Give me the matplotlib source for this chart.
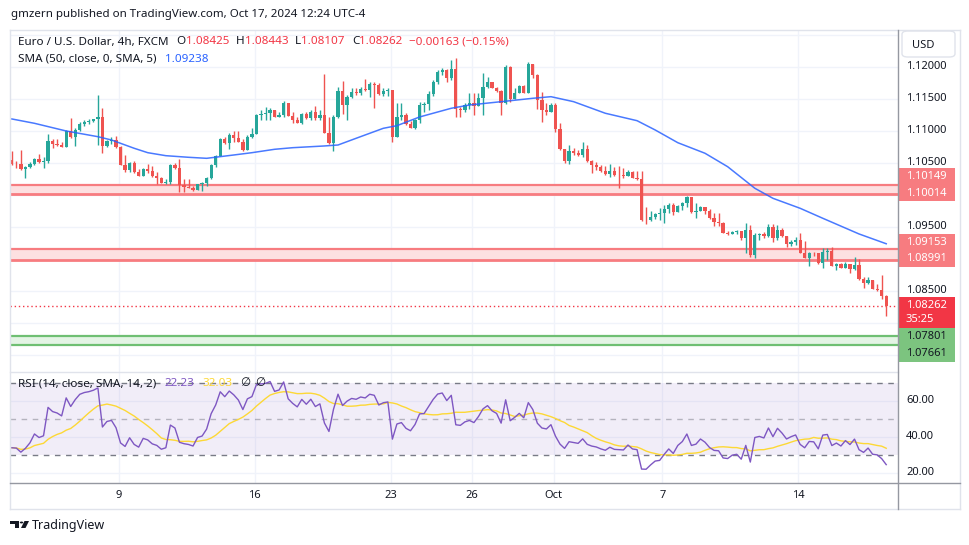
import numpy as np
import pandas as pd
import matplotlib
matplotlib.use('Agg')
import matplotlib.pyplot as plt
from matplotlib.patches import Rectangle, FancyBboxPatch, Circle, Polygon
from matplotlib.lines import Line2D

plt.rcParams['font.family'] = ['Noto Sans', 'DejaVu Sans']

# ---------------- data (EUR/USD 4h, FXCM) ----------------
first_open = 1.10547
closes = [
    1.10484, 1.10477, 1.10406, 1.10438, 1.10484, 1.10563, 1.10516, 1.10531, 1.10844, 1.10797,
    1.10781, 1.10750, 1.11000, 1.10906, 1.11016, 1.11109, 1.11141, 1.11156, 1.11180, 1.11219,
    1.10766, 1.10844, 1.10859, 1.10750, 1.10469, 1.10391, 1.10500, 1.10359, 1.10297, 1.10406,
    1.10375, 1.10297, 1.10266, 1.10188, 1.10203, 1.10469, 1.10422, 1.10156, 1.10125, 1.10109,
    1.10078, 1.10172, 1.10188, 1.10266, 1.10469, 1.10609, 1.10875, 1.10813, 1.10938, 1.10891,
    1.10828, 1.10703, 1.10906, 1.10953, 1.11250, 1.11266, 1.11281, 1.11328, 1.11219, 1.11250,
    1.11438, 1.11234, 1.11172, 1.11125, 1.11266, 1.11203, 1.11297, 1.11203, 1.11250, 1.10969,
    1.10813, 1.11219, 1.11625, 1.11406, 1.11531, 1.11609, 1.11594, 1.11656, 1.11641, 1.11734,
    1.11719, 1.11578, 1.11625, 1.11641, 1.10906, 1.11219, 1.11250, 1.11109, 1.11047, 1.11172,
    1.11406, 1.11414, 1.11578, 1.11766, 1.11922, 1.11953, 1.11828, 1.11969, 1.11344, 1.11328,
    1.11406, 1.11438, 1.11391, 1.11516, 1.11688, 1.11766, 1.11672, 1.11625, 1.11438, 1.12000,
    1.11500, 1.11594, 1.11703, 1.11594, 1.12047, 1.11875, 1.11484, 1.11328, 1.11297, 1.11406,
    1.11031, 1.10719, 1.10531, 1.10688, 1.10656, 1.10625, 1.10719, 1.10531, 1.10469, 1.10438,
    1.10375, 1.10328, 1.10375, 1.10313, 1.10305, 1.10297, 1.10359, 1.10266, 1.10250, 1.09609,
    1.09602, 1.09656, 1.09703, 1.09711, 1.09781, 1.09844, 1.09734, 1.09828, 1.09875, 1.09969,
    1.09734, 1.09750, 1.09813, 1.09750, 1.09641, 1.09578, 1.09570, 1.09406, 1.09391, 1.09422,
    1.09430, 1.09328, 1.09453, 1.09063, 1.09375, 1.09391, 1.09359, 1.09500, 1.09328, 1.09453,
    1.09359, 1.09234, 1.09266, 1.09289, 1.09094, 1.09016, 1.09094, 1.09086, 1.08938, 1.09109,
    1.09117, 1.08891, 1.08922, 1.08859, 1.08922, 1.08844, 1.08906, 1.08688, 1.08625, 1.08672,
    1.08531, 1.08516, 1.08425, 1.08262,
]
highs = [
    1.10687, 1.10531, 1.10703, 1.10453, 1.10523, 1.10578, 1.10641, 1.10594, 1.10953, 1.10875,
    1.10875, 1.10828, 1.11008, 1.11203, 1.11047, 1.11141, 1.11164, 1.11180, 1.11195, 1.11563,
    1.11359, 1.10859, 1.10906, 1.10922, 1.10766, 1.10625, 1.10516, 1.10531, 1.10406, 1.10422,
    1.10484, 1.10453, 1.10359, 1.10281, 1.10250, 1.10484, 1.10500, 1.10563, 1.10250, 1.10250,
    1.10141, 1.10172, 1.10203, 1.10281, 1.10484, 1.10625, 1.10891, 1.10906, 1.10969, 1.11000,
    1.11000, 1.10875, 1.10938, 1.11047, 1.11266, 1.11328, 1.11375, 1.11359, 1.11328, 1.11297,
    1.11469, 1.11438, 1.11297, 1.11219, 1.11281, 1.11297, 1.11328, 1.11391, 1.11328, 1.11891,
    1.11219, 1.11250, 1.11688, 1.11781, 1.11563, 1.11672, 1.11672, 1.11688, 1.11813, 1.11766,
    1.11766, 1.11750, 1.11672, 1.11672, 1.11641, 1.11438, 1.11438, 1.11281, 1.11156, 1.11188,
    1.11453, 1.11453, 1.11625, 1.11797, 1.11953, 1.11984, 1.11969, 1.12109, 1.12141, 1.11375,
    1.11438, 1.11594, 1.11594, 1.11594, 1.11906, 1.11844, 1.11766, 1.11688, 1.11641, 1.12031,
    1.12016, 1.11672, 1.11719, 1.11719, 1.12078, 1.12047, 1.11891, 1.11609, 1.11438, 1.11438,
    1.11438, 1.11125, 1.10719, 1.10781, 1.10734, 1.10703, 1.10828, 1.10781, 1.10547, 1.10516,
    1.10469, 1.10453, 1.10484, 1.10438, 1.10453, 1.10422, 1.10391, 1.10375, 1.10375, 1.10375,
    1.09813, 1.09750, 1.09719, 1.09797, 1.09844, 1.09875, 1.09875, 1.09844, 1.09891, 1.09984,
    1.09969, 1.09875, 1.09828, 1.09813, 1.09781, 1.09719, 1.09719, 1.09578, 1.09438, 1.09438,
    1.09453, 1.09422, 1.09563, 1.09531, 1.09406, 1.09406, 1.09422, 1.09547, 1.09547, 1.09531,
    1.09484, 1.09344, 1.09297, 1.09344, 1.09406, 1.09281, 1.09109, 1.09109, 1.09094, 1.09172,
    1.09172, 1.09188, 1.08938, 1.08938, 1.08953, 1.08922, 1.09031, 1.09000, 1.08719, 1.08719,
    1.08656, 1.08609, 1.08750, 1.08443,
]
lows = [
    1.10469, 1.10422, 1.10391, 1.10266, 1.10422, 1.10469, 1.10500, 1.10422, 1.10500, 1.10734,
    1.10766, 1.10750, 1.10766, 1.10891, 1.10766, 1.11000, 1.11078, 1.11109, 1.11141, 1.10781,
    1.10656, 1.10750, 1.10797, 1.10734, 1.10469, 1.10359, 1.10359, 1.10344, 1.10297, 1.10297,
    1.10344, 1.10281, 1.10172, 1.10188, 1.10172, 1.10172, 1.10406, 1.10047, 1.10047, 1.10109,
    1.10063, 1.10078, 1.10063, 1.10141, 1.10250, 1.10438, 1.10609, 1.10797, 1.10719, 1.10828,
    1.10828, 1.10688, 1.10703, 1.10891, 1.10953, 1.11172, 1.11172, 1.11172, 1.11219, 1.11219,
    1.11219, 1.11234, 1.11125, 1.11125, 1.11109, 1.11188, 1.11172, 1.11172, 1.11172, 1.10969,
    1.10797, 1.10688, 1.11203, 1.11266, 1.11172, 1.11516, 1.11563, 1.11563, 1.11625, 1.11531,
    1.11359, 1.11563, 1.11547, 1.11547, 1.10828, 1.10906, 1.11172, 1.11094, 1.11047, 1.11031,
    1.11125, 1.11297, 1.11328, 1.11547, 1.11734, 1.11875, 1.11766, 1.11797, 1.11219, 1.11219,
    1.11297, 1.11344, 1.11250, 1.11391, 1.11250, 1.11672, 1.11672, 1.11609, 1.11250, 1.11422,
    1.11453, 1.11500, 1.11594, 1.11594, 1.11594, 1.11828, 1.11344, 1.11141, 1.11250, 1.11297,
    1.10984, 1.10703, 1.10500, 1.10484, 1.10625, 1.10609, 1.10594, 1.10516, 1.10344, 1.10391,
    1.10359, 1.10313, 1.10281, 1.10297, 1.10109, 1.10266, 1.10297, 1.10266, 1.10234, 1.09594,
    1.09547, 1.09594, 1.09625, 1.09609, 1.09563, 1.09719, 1.09688, 1.09734, 1.09766, 1.09813,
    1.09719, 1.09641, 1.09750, 1.09703, 1.09625, 1.09516, 1.09516, 1.09406, 1.09375, 1.09391,
    1.09391, 1.09297, 1.09094, 1.09031, 1.09016, 1.09297, 1.09328, 1.09344, 1.09266, 1.09297,
    1.09344, 1.09188, 1.09203, 1.09219, 1.09094, 1.09016, 1.08891, 1.09047, 1.08922, 1.08859,
    1.08984, 1.08891, 1.08828, 1.08859, 1.08859, 1.08781, 1.08828, 1.08672, 1.08547, 1.08609,
    1.08531, 1.08500, 1.08375, 1.08107,
]
# SMA(50) at selected candles
sma_idx = [0, 5, 12, 19, 22, 27, 30, 34, 39, 43, 49, 53, 58, 62, 69, 72, 76, 82, 85, 90,
           97, 101, 108, 115, 119, 124, 131, 138, 142, 147, 153, 158, 164, 168, 174, 179, 187, 193]
sma_val = [1.11188, 1.11120, 1.11000, 1.10911, 1.10859, 1.10730, 1.10661, 1.10614, 1.10589, 1.10573,
           1.10625, 1.10661, 1.10714, 1.10739, 1.10766, 1.10781, 1.10886, 1.11042, 1.11083, 1.11219,
           1.11355, 1.11406, 1.11458, 1.11511, 1.11536, 1.11458, 1.11277, 1.11161, 1.11016, 1.10817,
           1.10652, 1.10442, 1.10105, 1.09948, 1.09792, 1.09636, 1.09391, 1.09238]
rsi_start = 34.0          # RSI value at the first visible candle
red_zones = [(1.10149, 1.10014), (1.09153, 1.08991)]
green_zone = (1.07801, 1.07661)
countdown = '35:25'
tick_idx = [24, 54, 84, 102, 120, 144, 174]
tick_labels = ['9', '16', '23', '26', 'Oct', '7', '14']
price_ticks = [1.12, 1.115, 1.11, 1.105, 1.095, 1.085]
rsi_ticks = [60, 40, 20]
rsi_legend = ('22.23', '32.03')

# ---------------- derived ----------------
closes = np.array(closes)
opens = np.concatenate([[first_open], closes[:-1]])
highs = np.maximum.reduce([np.array(highs), opens, closes])
lows = np.minimum.reduce([np.array(lows), opens, closes])
N = len(closes)
x = np.arange(N)

# RSI(14) with Wilder smoothing, state seeded from the first visible RSI value
d = np.diff(closes)
scale = np.mean(np.abs(d[:14]))
ag = scale * rsi_start / 100
al = scale * (1 - rsi_start / 100)
rsi = [rsi_start]
for dv in d:
    ag = (ag * 13 + max(dv, 0)) / 14
    al = (al * 13 + max(-dv, 0)) / 14
    rsi.append(100 - 100 / (1 + ag / al))
rsi = pd.Series(rsi)
rsi_ma = rsi.rolling(14, min_periods=1).mean()

UP, DN = '#26a69a', '#ef5350'
TXT = '#131722'
GRID = '#f0f3fa'

W, H = 970, 545
def fx(px): return px / W
def fy(py): return 1 - py / H

fig = plt.figure(figsize=(9.7, 5.45), dpi=100)
fig.patch.set_facecolor('white')
L, R, T1, B1, B2 = 10, 898, 30, 372, 483
ax = fig.add_axes([fx(L), fy(B1), (R - L) / W, (B1 - T1) / H])
ax2 = fig.add_axes([fx(L), fy(B2), (R - L) / W, (B2 - B1) / H])
for a in (ax, ax2):
    for s in a.spines.values():
        s.set_visible(False)
    a.set_xticks([]); a.set_yticks([])
    a.set_xlim(-0.4, 195.6)
    a.set_facecolor('none')
ax.set_ylim(1.07234, 1.12578)
ax2.set_ylim(14.4, 76.1)

# grids
for p in np.arange(1.075, 1.1251, 0.005):
    ax.axhline(p, color=GRID, lw=1, zorder=0)
for t in tick_idx:
    ax.axvline(t - 0.4, color=GRID, lw=1, zorder=0)
    ax2.axvline(t - 0.4, color=GRID, lw=1, zorder=0)
for r in rsi_ticks:
    ax2.axhline(r, color=GRID, lw=1, zorder=0)

# zones
for hi, lo in red_zones:
    ax.axhspan(lo, hi, color='#fde0e1', zorder=1, lw=0)
    ax.axhline(hi, color='#f77c80', lw=1.6, zorder=1.5)
    ax.axhline(lo, color='#f77c80', lw=2.0, zorder=1.5)
hi, lo = green_zone
ax.axhspan(lo, hi, color='#e4f4e5', zorder=1, lw=0)
ax.axhline(hi, color='#6fbf73', lw=1.6, zorder=1.5)
ax.axhline(lo, color='#6fbf73', lw=1.6, zorder=1.5)

# candles
cols = np.where(closes >= opens, UP, DN)
ax.vlines(x, lows, highs, colors=cols, lw=1.0, zorder=3)
body_lo = np.minimum(opens, closes)
body_h = np.maximum(np.abs(closes - opens), 0.00006)
ax.bar(x, body_h, bottom=body_lo, width=0.72, color=cols, linewidth=0, zorder=4)

# SMA
ax.plot(sma_idx, sma_val, color='#2962ff', lw=1.1, alpha=0.85, zorder=5)

# last price dotted line
ax.axhline(closes[-1], color='#f23645', lw=1, ls=(0, (1, 2)), zorder=2)

# RSI pane
ax2.axhspan(30, 70, color='#7e57c2', alpha=0.1, lw=0, zorder=0.5)
ax2.axhline(70, color='#787b86', lw=1, ls=(0, (4, 4)), zorder=1)
ax2.axhline(50, color='#787b86', lw=1, ls=(0, (4, 4)), alpha=0.5, zorder=1)
ax2.axhline(30, color='#787b86', lw=1, ls=(0, (4, 4)), zorder=1)
ax2.plot(x, rsi_ma, color='#fdd835', lw=1, zorder=2)
ax2.plot(x, rsi, color='#7e57c2', lw=1, zorder=3)

# frame lines
def fline(x0, y0, x1, y1, color, lw=1):
    fig.add_artist(Line2D([fx(x0), fx(x1)], [fy(y0), fy(y1)], color=color, lw=lw,
                          transform=fig.transFigure))
fline(10, 30, 960, 30, '#e0e3eb')
fline(10, 509, 960, 509, '#e0e3eb')
fline(10, 30, 10, 509, '#e0e3eb')
fline(960, 30, 960, 509, '#e0e3eb')
fline(10, B1, 898, B1, '#e0e3eb')
fline(R, 30, R, 509, '#9598a1')
fline(10, B2, 960, B2, '#9598a1')

renderer = fig.canvas.get_renderer()

def seq_text(x0, y0, segs, size=8.4):
    xx = x0
    for s, col, gap in segs:
        t = fig.text(fx(xx), fy(y0), s, color=col, fontsize=size, va='center', ha='left')
        xx += t.get_window_extent(renderer=renderer).width + gap

def ypx(a, v):
    return H - a.transData.transform((0, v))[1]

def xpx(a, v):
    return a.transData.transform((v, 0))[0]

# header
fig.text(fx(11), fy(15), 'gmzern published on TradingView.com, Oct 17, 2024 12:24 UTC-4',
         fontsize=8.3, color=TXT, va='center', ha='left')
chg = closes[-1] - closes[-2]
pct = chg / closes[-2] * 100
RED = '#f23645'
seq_text(18, 42, [('Euro / U.S. Dollar, 4h, FXCM', TXT, 8),
                  ('O', TXT, 0), (f'{opens[-1]:.5f}', RED, 7),
                  ('H', TXT, 0), (f'{highs[-1]:.5f}', RED, 7),
                  ('L', TXT, 0), (f'{lows[-1]:.5f}', RED, 7),
                  ('C', TXT, 0), (f'{closes[-1]:.5f}', RED, 7),
                  (f'\u2212{abs(chg):.5f} (\u2212{abs(pct):.2f}%)', RED, 0)])
seq_text(18, 59, [('SMA (50, close, 0, SMA, 5)', TXT, 8), (f'{sma_val[-1]:.5f}', '#2962ff', 0)])
seq_text(18, 384, [('RSI (14, close, SMA, 14, 2)', TXT, 8), (rsi_legend[0], '#7e57c2', 8),
                   (rsi_legend[1], '#fdd835', 8), ('\u2205', TXT, 5), ('\u2205', TXT, 0)])

# right price scale
for p in price_ticks:
    fig.text(fx(906), fy(ypx(ax, p)), f'{p:.5f}', fontsize=8, color=TXT, va='center', ha='left')
for r in rsi_ticks:
    fig.text(fx(906), fy(ypx(ax2, r)), f'{r:.2f}', fontsize=8, color=TXT, va='center', ha='left')

def label_box(y_top, y_bot, color):
    fig.add_artist(Rectangle((fx(898), fy(y_bot)), (955 - 898) / W, (y_bot - y_top) / H,
                             transform=fig.transFigure, color=color, lw=0))

for hi, lo in red_zones:
    y2 = ypx(ax, lo) - 1
    y1 = y2 - 16.5
    label_box(y1 - 8.5, y2 + 8, '#f77c80')
    fig.text(fx(906), fy(y1), f'{hi:.5f}', fontsize=8, color='white', fontweight='bold', va='center')
    fig.text(fx(906), fy(y2), f'{lo:.5f}', fontsize=8, color='white', fontweight='bold', va='center')
hi, lo = green_zone
y1 = ypx(ax, hi) + 1
y2 = y1 + 16.5
label_box(y1 - 8.5, y2 + 8.5, '#7cc47f')
fig.text(fx(906), fy(y1), f'{hi:.5f}', fontsize=8, color=TXT, va='center')
fig.text(fx(906), fy(y2), f'{lo:.5f}', fontsize=8, color=TXT, va='center')
y1 = ypx(ax, closes[-1]) - 1
label_box(y1 - 8, y1 + 23, '#f23645')
fig.text(fx(906), fy(y1), f'{closes[-1]:.5f}', fontsize=8, color='white', fontweight='bold', va='center')
fig.text(fx(906), fy(y1 + 14.5), countdown, fontsize=8, color='white', va='center')

# USD button
fig.add_artist(FancyBboxPatch((fx(902), fy(57)), (955 - 902) / W, 26 / H,
                              boxstyle='round,pad=0,rounding_size=0.006',
                              transform=fig.transFigure, fc='white', ec='#e0e3eb', lw=1))
fig.text(fx(912), fy(45), 'USD', fontsize=8, color=TXT, va='center', ha='left')

# time axis
for t, lab in zip(tick_idx, tick_labels):
    fig.text(xpx(ax, t - 0.4) / W, fy(495), lab, fontsize=8, color=TXT, va='center', ha='center')

# footer logo
fig.add_artist(Polygon([(fx(10), fy(521)), (fx(19), fy(521)), (fx(19), fy(528)), (fx(15.5), fy(528)),
                        (fx(15.5), fy(524)), (fx(10), fy(524))], closed=True,
                       transform=fig.transFigure, color=TXT, lw=0))
fig.add_artist(Circle((fx(21.5), fy(522.5)), 1.7 / W, transform=fig.transFigure, color=TXT, lw=0))
fig.add_artist(Polygon([(fx(24.5), fy(521)), (fx(29), fy(521)), (fx(25.5), fy(528)), (fx(21), fy(528))],
                       closed=True, transform=fig.transFigure, color=TXT, lw=0))
fig.text(fx(32), fy(525), 'TradingView', fontsize=9, color=TXT, va='center', ha='left')

fig.savefig('out.png', dpi=100, facecolor='white')
